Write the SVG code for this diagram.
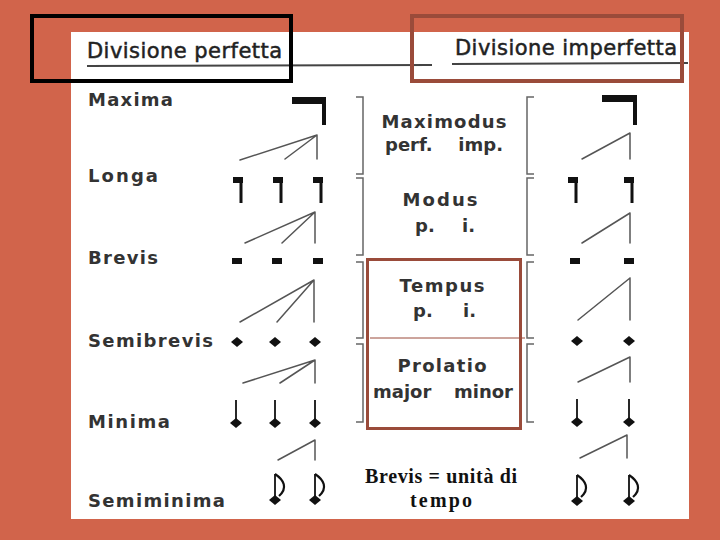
<svg xmlns="http://www.w3.org/2000/svg" width="720" height="540" viewBox="0 0 720 540">
<style>
.lbl{font-family:"DejaVu Sans","Liberation Sans",sans-serif;font-size:18px;font-weight:bold;fill:#333}
.hdr{font-family:"DejaVu Sans","Liberation Sans",sans-serif;font-size:21px;fill:#222;stroke:#222;stroke-width:0.5}
.mid{font-family:"DejaVu Sans","Liberation Sans",sans-serif;font-size:18px;font-weight:bold;fill:#333}
.note{font-family:"Liberation Serif","Times New Roman",serif;font-size:20px;font-weight:bold;fill:#111}
.fan{stroke:#555;stroke-width:1.5;fill:none;stroke-linecap:round}
.brk{stroke:#666;stroke-width:1.5;fill:none}
.ink{fill:#111}
</style>
<defs>
<g id="longa"><rect x="-5" y="0" width="10" height="6" class="ink"/><rect x="1.5" y="0" width="3" height="26" class="ink"/></g>
<g id="brevis"><rect x="-5" y="-3" width="10" height="6" class="ink"/></g>
<g id="semibrevis"><path d="M-6 0 L0 -5 L6 0 L0 5 Z" class="ink"/></g>
<g id="minima"><path d="M-6 0 L0 -5 L6 0 L0 5 Z" class="ink"/><rect x="-0.9" y="-23" width="1.8" height="23" class="ink"/></g>
<g id="semiminima"><path d="M-6 0 L0 -5 L6 0 L0 5 Z" class="ink"/><rect x="-0.9" y="-26" width="1.8" height="26" class="ink"/><path d="M0 -26 C9 -20 13 -12 4 -4" stroke="#111" stroke-width="2.2" fill="none"/></g>
</defs>

<rect x="0" y="0" width="720" height="540" fill="#D1644B"/>
<rect x="71" y="32" width="618" height="487" fill="#ffffff"/>

<g id="header">
<text class="hdr" x="87" y="58" textLength="195" lengthAdjust="spacing">Divisione perfetta</text>
<text class="hdr" x="455" y="55" textLength="222" lengthAdjust="spacing">Divisione imperfetta</text>
<line x1="87" y1="66" x2="432" y2="65" stroke="#444" stroke-width="2"/>
<line x1="452" y1="64" x2="688" y2="63" stroke="#444" stroke-width="2"/>
<rect x="32" y="16" width="259" height="65" fill="none" stroke="#000" stroke-width="4"/>
<rect x="412" y="16" width="270" height="65" fill="none" stroke="#9A4B3A" stroke-width="4"/>
</g>

<g id="labels">
<text class="lbl" x="88" y="106" textLength="85" lengthAdjust="spacing">Maxima</text>
<text class="lbl" x="88" y="182" textLength="70" lengthAdjust="spacing">Longa</text>
<text class="lbl" x="88" y="264" textLength="70" lengthAdjust="spacing">Brevis</text>
<text class="lbl" x="88" y="347" textLength="125" lengthAdjust="spacing">Semibrevis</text>
<text class="lbl" x="88" y="428" textLength="82" lengthAdjust="spacing">Minima</text>
<text class="lbl" x="88" y="507" textLength="137" lengthAdjust="spacing">Semiminima</text>
</g>

<g id="perfect-notes">
<rect x="292" y="97" width="34" height="7" class="ink"/><rect x="322" y="97" width="4" height="28" class="ink"/>
<use href="#longa" x="238" y="177"/><use href="#longa" x="278" y="177"/><use href="#longa" x="318" y="177"/>
<use href="#brevis" x="237" y="261"/><use href="#brevis" x="277" y="261"/><use href="#brevis" x="318" y="261"/>
<use href="#semibrevis" x="237" y="342"/><use href="#semibrevis" x="275" y="342"/><use href="#semibrevis" x="315" y="342"/>
<use href="#minima" x="236" y="423"/><use href="#minima" x="275" y="423"/><use href="#minima" x="315" y="423"/>
<use href="#semiminima" x="275" y="500"/><use href="#semiminima" x="315" y="500"/>
</g>

<g id="imperfect-notes">
<rect x="602" y="95" width="35" height="7" class="ink"/><rect x="633" y="95" width="4" height="30" class="ink"/>
<use href="#longa" x="573" y="177"/><use href="#longa" x="629" y="177"/>
<use href="#brevis" x="575" y="261"/><use href="#brevis" x="629" y="261"/>
<use href="#semibrevis" x="577" y="341"/><use href="#semibrevis" x="629" y="341"/>
<use href="#minima" x="577" y="422"/><use href="#minima" x="629" y="422"/>
<use href="#semiminima" x="577" y="501"/><use href="#semiminima" x="629" y="501"/>
</g>

<g id="connectors">
<path class="fan" d="M317 135 L240 160 M317 135 L285 159 M317 135 L317 159"/>
<path class="fan" d="M315 212 L245 243 M315 212 L282 243 M315 212 L315 243"/>
<path class="fan" d="M314 280 L240 322 M314 280 L277 322 M314 280 L314 322"/>
<path class="fan" d="M315 360 L243 383 M315 360 L280 383 M315 360 L315 383"/>
<path class="fan" d="M315 440 L278 460 M315 440 L315 460"/>
<path class="fan" d="M630 133 L582 159 M630 133 L630 159"/>
<path class="fan" d="M630 213 L582 243 M630 213 L630 243"/>
<path class="fan" d="M630 278 L578 320 M630 278 L630 320"/>
<path class="fan" d="M630 357 L578 382 M630 357 L630 382"/>
<path class="fan" d="M627 435 L580 458 M627 435 L627 458"/>
</g>

<g id="brackets">
<path class="brk" d="M356 97 H363 V174 H356 M356 178 H363 V255 H356 M356 262 H363 V338 H356 M356 344 H363 V422 H356"/>
<path class="brk" d="M534 97 H527 V174 H534 M534 178 H527 V255 H534 M534 262 H527 V338 H534 M534 344 H527 V422 H534"/>
</g>

<g id="maximodus">
<text class="mid" x="444" y="128" text-anchor="middle" textLength="125" lengthAdjust="spacing">Maximodus</text>
<text class="mid" x="385" y="151">perf.</text>
<text class="mid" x="503" y="151" text-anchor="end">imp.</text>
</g>
<g id="modus">
<text class="mid" x="440" y="206" text-anchor="middle" textLength="75" lengthAdjust="spacing">Modus</text>
<text class="mid" x="415" y="232">p.</text>
<text class="mid" x="462" y="232">i.</text>
</g>
<g id="tempus">
<text class="mid" x="442" y="292" text-anchor="middle" textLength="85" lengthAdjust="spacing">Tempus</text>
<text class="mid" x="413" y="317">p.</text>
<text class="mid" x="463" y="317">i.</text>
</g>
<g id="prolatio">
<text class="mid" x="442" y="372" text-anchor="middle" textLength="89" lengthAdjust="spacing">Prolatio</text>
<text class="mid" x="373" y="398">major</text>
<text class="mid" x="513" y="398" text-anchor="end">minor</text>
</g>

<g id="highlight">
<rect x="367.5" y="259.5" width="153" height="169" fill="none" stroke="#9A4B3A" stroke-width="3"/>
<line x1="370" y1="338" x2="525" y2="338" stroke="#9A4B3A" stroke-width="1"/>
</g>

<g id="note-text">
<text class="note" x="441" y="483" text-anchor="middle" textLength="152" lengthAdjust="spacing">Brevis = unità di</text>
<text class="note" x="441" y="507" text-anchor="middle" textLength="62" lengthAdjust="spacing">tempo</text>
</g>
</svg>
